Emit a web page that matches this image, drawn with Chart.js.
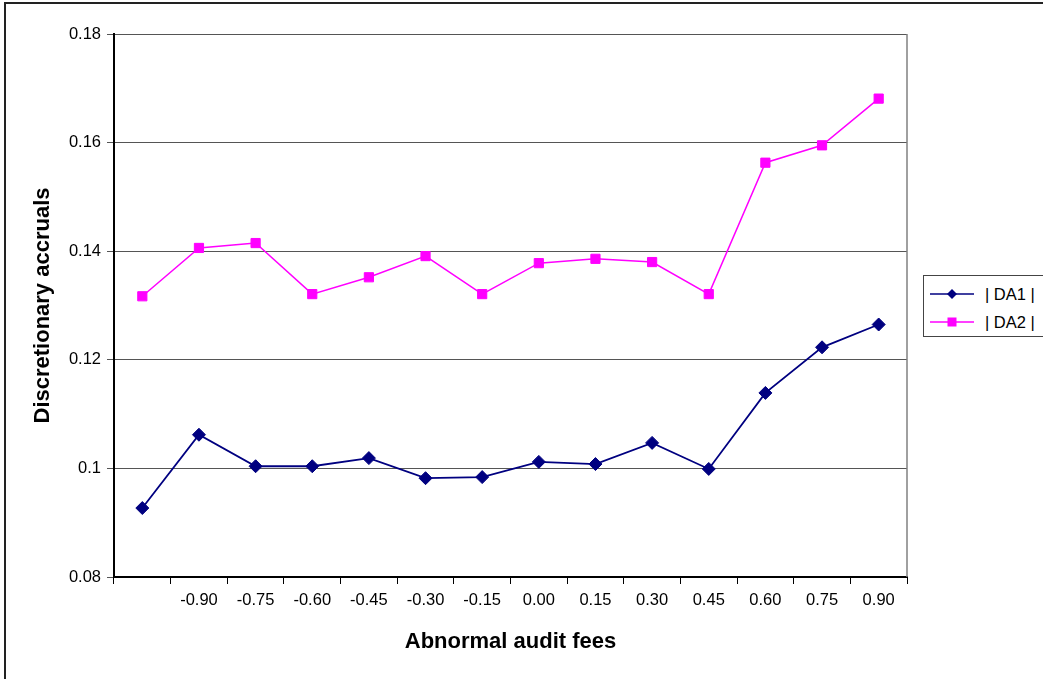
<!DOCTYPE html>
<html>
<head>
<meta charset="utf-8">
<script src="https://cdn.jsdelivr.net/npm/chart.js@4.4.1/dist/chart.umd.min.js"></script>
<style>
  html, body { margin: 0; padding: 0; background: #fff; overflow: hidden; }
  #wrap { position: relative; width: 1043px; height: 679px; }
  #frame { position: absolute; left: 4px; top: 2px; width: 1100px; height: 720px; border: 2px solid #222; box-sizing: border-box; }
  #chart { position: absolute; left: 0; top: 0; }
  #legend { position: absolute; left: 923px; top: 275px; width: 140px; height: 62px; border: 1px solid #444; box-sizing: border-box; background: #fff;
            font-family: "Liberation Sans", Arial, sans-serif; font-size: 16.5px; color: #000; }
  .item { position: absolute; left: 6px; height: 20px; display: flex; align-items: center; }
  .item span { margin-left: 11px; white-space: pre; }
</style>
</head>
<body>
<div id="wrap">
  <div id="frame"></div>
  <canvas id="chart" width="1043" height="679"></canvas>
  <div id="legend">
    <div class="item" style="top:8px">
      <svg width="44" height="14"><line x1="0" y1="7" x2="44" y2="7" stroke="#000080" stroke-width="1.5"/><polygon points="22,2 27,7 22,12 17,7" fill="#000080"/></svg>
      <span>| DA1 |</span>
    </div>
    <div class="item" style="top:36px">
      <svg width="44" height="14"><line x1="0" y1="7" x2="44" y2="7" stroke="#ff00ff" stroke-width="1.5"/><rect x="17.5" y="2.5" width="9" height="9" fill="#ff00ff"/></svg>
      <span>| DA2 |</span>
    </div>
  </div>
</div>
<script>
// categories (first bucket has no label)
var categorias = ['', '-0.90', '-0.75', '-0.60', '-0.45', '-0.30', '-0.15', '0.00', '0.15', '0.30', '0.45', '0.60', '0.75', '0.90'];
var da1 = [0.0927, 0.1062, 0.1004, 0.1004, 0.1019, 0.0982, 0.0984, 0.1012, 0.1008, 0.1047, 0.0999, 0.1139, 0.1223, 0.1265];
var da2 = [0.1317, 0.1406, 0.1415, 0.1321, 0.1352, 0.1391, 0.1321, 0.1378, 0.1386, 0.1380, 0.1321, 0.1563, 0.1595, 0.1681];
var yMin = 0.08, yMax = 0.18, yStep = 0.02;

var fonte = "'Liberation Sans', Arial, sans-serif";

// gray right border of the plot area
var bordaPlot = {
  id: 'bordaPlot',
  beforeDatasetsDraw: function(chart){
    var a = chart.chartArea, ctx = chart.ctx;
    ctx.save();
    ctx.strokeStyle = '#808080';
    ctx.lineWidth = 1.5;
    ctx.beginPath();
    ctx.moveTo(a.right, a.top);
    ctx.lineTo(a.right, a.bottom);
    ctx.stroke();
    ctx.restore();
  }
};

var ctx = document.getElementById('chart').getContext('2d');
var myChart = new Chart(ctx, {
  type: 'line',
  plugins: [bordaPlot],
  data: {
    labels: categorias,
    datasets: [{
      label: '| DA1 |',
      data: da1,
      borderColor: '#000080',
      backgroundColor: '#000080',
      borderWidth: 1.8,
      pointStyle: 'rectRot',
      pointRadius: 6.5,
      pointBorderWidth: 1,
      tension: 0
    }, {
      label: '| DA2 |',
      data: da2,
      borderColor: '#ff00ff',
      backgroundColor: '#ff00ff',
      borderWidth: 1.5,
      pointStyle: 'rect',
      pointRadius: 6.5,
      pointBorderWidth: 1,
      tension: 0
    }]
  },
  options: {
    responsive: false,
    animation: false,
    layout: { padding: { left: 20, right: 136, top: 34, bottom: 20 } },
    plugins: {
      legend: { display: false },
      tooltip: { enabled: false }
    },
    scales: {
      x: {
        offset: true,
        grid: { offset: true, drawOnChartArea: false, drawTicks: true, tickLength: 7, color: '#000', lineWidth: 1 },
        border: { color: '#000', width: 2 },
        ticks: { color: '#000', font: { family: fonte, size: 16.5 }, padding: 7, maxRotation: 0, autoSkip: false },
        title: { display: true, text: 'Abnormal audit fees', color: '#000', font: { family: fonte, size: 22, weight: 'bold' }, padding: { top: 0, bottom: 4 } },
        afterFit: function(scale){ scale.height = 82; }
      },
      y: {
        min: yMin,
        max: yMax,
        grid: { color: '#555', lineWidth: 1, tickLength: 7, drawTicks: true },
        border: { color: '#000', width: 2 },
        ticks: {
          stepSize: yStep,
          color: '#000',
          padding: 6,
          font: { family: fonte, size: 16.5 },
          callback: function(v){ return String(Number(v.toFixed(2))); }
        },
        title: { display: true, text: 'Discretionary accruals', color: '#000', font: { family: fonte, size: 22, weight: 'bold' }, padding: { top: 10, bottom: 0 } },
        afterFit: function(scale){ scale.width = 94; }
      }
    }
  }
});
</script>
</body>
</html>
